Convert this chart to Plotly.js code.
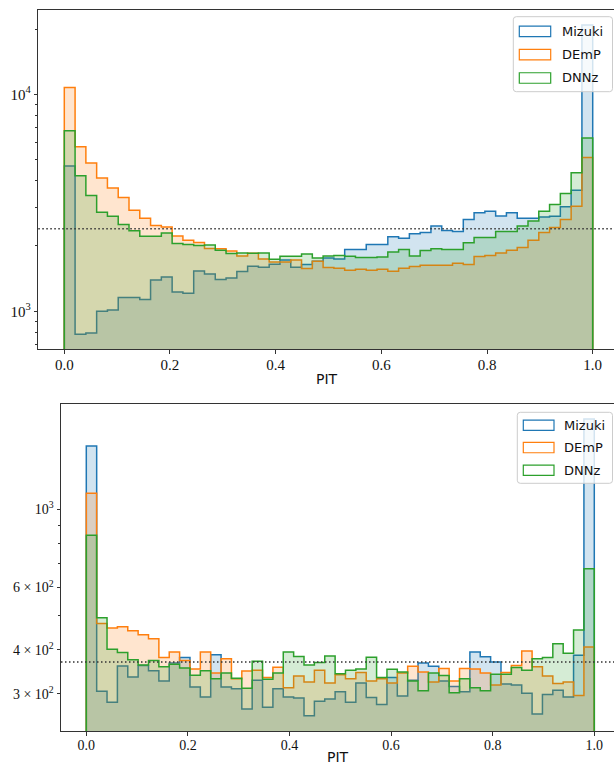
<!DOCTYPE html>
<html><head><meta charset="utf-8">
<script src="https://cdn.plot.ly/plotly-3.0.1.min.js"></script>
<style>html,body{margin:0;padding:0;background:#fff;overflow:hidden}#chart{width:614px;height:766px}</style>
</head><body><div id="chart"></div>
<script>
// ---------- data ----------
const seriesNames = ['Mizuki', 'DEmP', 'DNNz'];
const nBins = 49; // PIT bins on [0, 1]
const xTitle = 'PIT';

const topMizuki = [4670, 783, 794, 1000, 1014, 1157, 1157, 1132, 1395, 1439, 1228, 1211, 1535, 1486, 1400, 1425, 1524, 1613, 1596, 1648, 1725, 1596, 1643, 1701, 1762, 1743, 1926, 1926, 2031, 2031, 2203, 2173, 2274, 2307, 2475, 2357, 2333, 2650, 2845, 2895, 2750, 2845, 2685, 2685, 2720, 2744, 3029, 3615, 20900];
const topDEmP = [10770, 5730, 4830, 4120, 3705, 3347, 2924, 2687, 2485, 2448, 2226, 2126, 2075, 1946, 1940, 1897, 1800, 1852, 1743, 1689, 1689, 1725, 1574, 1701, 1591, 1579, 1546, 1562, 1546, 1562, 1530, 1579, 1607, 1630, 1630, 1630, 1665, 1643, 1788, 1807, 1858, 1912, 1968, 2126, 2307, 2432, 2650, 3052, 5120];
const topDNNz = [6790, 4210, 3418, 2863, 2743, 2513, 2348, 2218, 2218, 2298, 2053, 2031, 2011, 2022, 1912, 1845, 1858, 1852, 1858, 1738, 1794, 1794, 1838, 1762, 1800, 1807, 1794, 1768, 1768, 1781, 1878, 1926, 1800, 1905, 1940, 1926, 1926, 2070, 2187, 2187, 2333, 2333, 2475, 2610, 2894, 3106, 3493, 4350, 6300];
const topUniform = 2400;

const bottomMizuki = [1511, 305, 284, 360, 335, 361, 349, 326, 367, 380, 314, 294, 387, 314, 310, 272, 328, 275, 310, 294, 292, 260, 286, 290, 304, 284, 322, 293, 280, 334, 296, 328, 367, 359, 326, 315, 304, 394, 382, 369, 320, 318, 301, 263, 299, 307, 294, 386, 1800];
const bottomDEmP = [1110, 475, 461, 465, 453, 441, 430, 380, 394, 373, 353, 394, 344, 377, 331, 348, 350, 334, 357, 312, 337, 324, 350, 322, 340, 331, 345, 326, 331, 322, 344, 359, 346, 324, 354, 326, 354, 353, 344, 318, 345, 361, 397, 358, 337, 321, 324, 297, 407];
const bottomDNNz = [844, 493, 401, 393, 375, 362, 373, 358, 364, 355, 339, 349, 331, 344, 332, 311, 371, 330, 344, 394, 383, 362, 368, 384, 342, 350, 353, 381, 334, 352, 346, 326, 306, 344, 338, 302, 331, 312, 306, 341, 341, 356, 350, 377, 380, 416, 391, 455, 678];
const bottomUniform = 369;

const xTickVals = [0, 0.2, 0.4, 0.6, 0.8, 1.0];
const xTickText = ['0.0', '0.2', '0.4', '0.6', '0.8', '1.0'];
const topYTickVals = [1000, 10000];
const topYTickText = ['10<sup>3</sup>', '10<sup>4</sup>'];
const topYMinorVals = [700, 800, 900, 2000, 3000, 4000, 5000, 6000, 7000, 8000, 9000, 20000];
const bottomYTickVals = [300, 400, 600, 1000];
const bottomYTickText = ['3 × 10<sup>2</sup>', '4 × 10<sup>2</sup>', '6 × 10<sup>2</sup>', '10<sup>3</sup>'];
const bottomYMinorVals = [500, 700, 800, 900];

// ---------- styles ----------
const lineColors = ['#1f77b4', '#ff7f0e', '#2ca02c'];
const fillColors = ['rgba(31,119,180,0.2)', 'rgba(255,127,14,0.2)', 'rgba(44,160,44,0.2)'];
const W = 614, H = 766;
const px = v => v / W;
const py = v => 1 - v / H;
const binEdges = Array.from({length: nBins + 1}, (_, i) => i / nBins);
const FLOOR = 1;
const axisColor = '#333';
const serif = 'Liberation Serif, Times New Roman, serif';
const sans = 'DejaVu Sans, sans-serif';

function stepTrace(values, idx, xa, ya) {
  const x = [binEdges[0]], y = [FLOOR];
  for (let i = 0; i < values.length; i++) { x.push(binEdges[i]); y.push(values[i]); }
  x.push(binEdges[values.length]); y.push(values[values.length - 1]);
  x.push(binEdges[values.length]); y.push(FLOOR);
  return {
    type: 'scatter', mode: 'lines', name: seriesNames[idx], x, y, xaxis: xa, yaxis: ya,
    line: {shape: 'hv', color: lineColors[idx], width: 1.5},
    fill: 'toself', fillcolor: fillColors[idx], hoverinfo: 'skip', showlegend: false
  };
}

const traces = [
  stepTrace(topMizuki, 0, 'x', 'y'),
  stepTrace(topDEmP, 1, 'x', 'y'),
  stepTrace(topDNNz, 2, 'x', 'y'),
  stepTrace(bottomMizuki, 0, 'x2', 'y2'),
  stepTrace(bottomDEmP, 1, 'x2', 'y2'),
  stepTrace(bottomDNNz, 2, 'x2', 'y2')
];

function xAxis(domain, range, anchor, fs) {
  return {
    domain, range, anchor, tickmode: 'array', tickvals: xTickVals, ticktext: xTickText,
    ticks: 'outside', ticklen: 3.5, tickwidth: 1, tickcolor: axisColor, ticklabelstandoff: -2,
    showline: true, linecolor: axisColor, linewidth: 1, mirror: true,
    showgrid: false, zeroline: false, automargin: false,
    tickfont: {family: serif, size: fs, color: '#111'}
  };
}
function yAxis(domain, range, anchor, tv, tt, minorVals, fs) {
  return {
    domain, range, anchor, type: 'log', tickmode: 'array', tickvals: tv, ticktext: tt,
    ticks: 'outside', ticklen: 3.5, tickwidth: 1, tickcolor: axisColor,
    minor: {tickmode: 'array', tickvals: minorVals, ticks: 'outside', ticklen: 2, tickwidth: 1, tickcolor: axisColor, showgrid: false},
    showline: true, linecolor: axisColor, linewidth: 1, mirror: false,
    showgrid: false, zeroline: false, automargin: false,
    tickfont: {family: serif, size: fs, color: '#111'}
  };
}

function roundRect(x0, y0, x1, y1, r) {
  const P = (a, b) => px(a) + ',' + py(b);
  return 'M' + P(x0 + r, y0) + ' L' + P(x1 - r, y0) + ' Q' + P(x1, y0) + ' ' + P(x1, y0 + r) +
    ' L' + P(x1, y1 - r) + ' Q' + P(x1, y1) + ' ' + P(x1 - r, y1) +
    ' L' + P(x0 + r, y1) + ' Q' + P(x0, y1) + ' ' + P(x0, y1 - r) +
    ' L' + P(x0, y0 + r) + ' Q' + P(x0, y0) + ' ' + P(x0 + r, y0) + ' Z';
}

const shapes = [];
const annotations = [];

// dotted uniform-expectation lines
[['x domain', 'y', topUniform], ['x2 domain', 'y2', bottomUniform]].forEach(([xr, yr, v]) => {
  shapes.push({type: 'line', xref: xr, x0: 0, x1: 1, yref: yr, y0: v, y1: v,
    line: {color: '#333', width: 1.5, dash: '1.5px,2.5px'}, layer: 'above'});
});

function addLegend(box, patchX0, patchX1, rowYs, patchH, textX, fs) {
  shapes.push({type: 'path', xref: 'paper', yref: 'paper', path: roundRect(box[0], box[1], box[2], box[3], 3),
    fillcolor: 'rgba(255,255,255,0.8)', line: {color: '#cccccc', width: 1}, layer: 'above'});
  rowYs.forEach((cy, i) => {
    shapes.push({type: 'rect', xref: 'paper', yref: 'paper', x0: px(patchX0), x1: px(patchX1),
      y0: py(cy + patchH / 2), y1: py(cy - patchH / 2), fillcolor: 'rgba(255,255,255,0)',
      line: {color: lineColors[i], width: 1.2}, layer: 'above'});
    annotations.push({xref: 'paper', yref: 'paper', x: px(textX), y: py(cy), xanchor: 'left', yanchor: 'middle',
      text: seriesNames[i], showarrow: false, font: {family: sans, size: fs, color: '#111'}, borderpad: 0});
  });
}
addLegend([513.3, 16.7, 612.5, 91.7], 519.3, 550.7, [31.3, 54.7, 78.0], 10.5, 560.5, 13);
addLegend([517.3, 412.3, 612.5, 483.3], 523.3, 554.0, [425.3, 447.6, 470.3], 10.3, 563.0, 13);

// x-axis titles
annotations.push({xref: 'paper', yref: 'paper', x: px(327), y: py(379), xanchor: 'center', yanchor: 'middle',
  text: xTitle, showarrow: false, font: {family: sans, size: 14, color: '#111'}, borderpad: 0});
annotations.push({xref: 'paper', yref: 'paper', x: px(337.5), y: py(765.5), xanchor: 'center', yanchor: 'bottom',
  text: xTitle, showarrow: false, font: {family: sans, size: 14, color: '#111'}, borderpad: 0});

const layout = {
  width: W, height: H, margin: {l: 0, r: 0, t: 0, b: 0, pad: 0},
  paper_bgcolor: '#fff', plot_bgcolor: '#fff', showlegend: false,
  xaxis: xAxis([px(38.3), 1], [-0.0492, 1.0403], 'y', 15),
  yaxis: yAxis([py(349.3), py(10)], [2.8246, 4.389], 'x', topYTickVals, topYTickText, topYMinorVals, 15),
  xaxis2: xAxis([px(61), 1], [-0.0498, 1.0388], 'y2', 14),
  yaxis2: yAxis([py(731), py(404.3)], [2.372, 3.297], 'x2', bottomYTickVals, bottomYTickText, bottomYMinorVals, 14),
  shapes, annotations
};
Plotly.newPlot('chart', traces, layout, {staticPlot: true, displayModeBar: false});
</script>
</body></html>
